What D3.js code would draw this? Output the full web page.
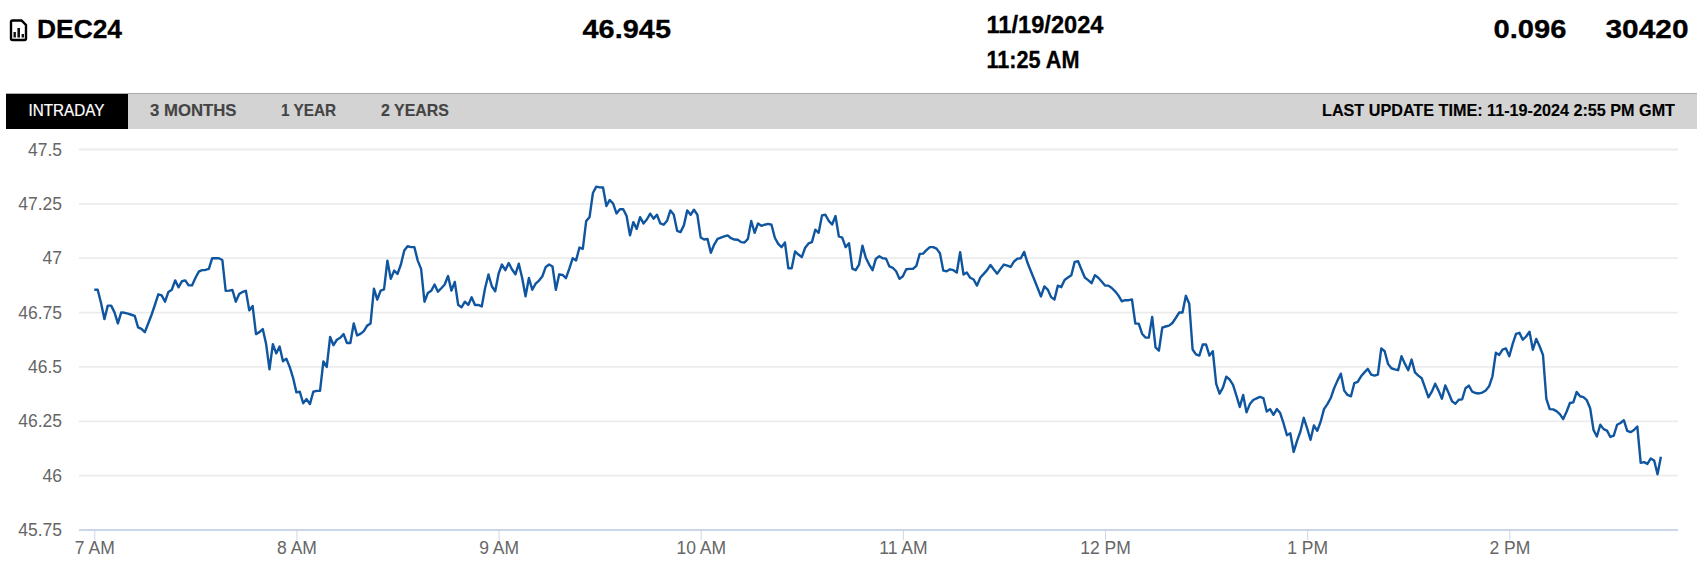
<!DOCTYPE html>
<html>
<head>
<meta charset="utf-8">
<script src="https://cdn.jsdelivr.net/npm/d3@7"></script>
<style>
html,body{margin:0;padding:0;background:#fff;overflow:hidden}
svg{display:block;font-family:"Liberation Sans",Arial,sans-serif}
</style>
</head>
<body>
<div id="chart"></div>
<script>
// Price readings, one per minute from 7:00 AM
const prices = [
46.855,46.855,46.794,46.72,46.782,46.782,46.751,46.70,46.751,46.749,
46.745,46.74,46.735,46.682,46.675,46.66,46.70,46.74,46.786,46.834,
46.829,46.80,46.845,46.855,46.898,46.866,46.894,46.898,46.875,46.875,
46.909,46.938,46.945,46.946,46.951,47.0,47.0,47.0,46.992,46.85,
46.851,46.854,46.80,46.835,46.845,46.85,46.76,46.78,46.651,46.66,
46.674,46.605,46.489,46.605,46.562,46.594,46.526,46.538,46.50,46.45,
46.383,46.386,46.333,46.352,46.329,46.386,46.39,46.39,46.525,46.50,
46.638,46.60,46.625,46.634,46.651,46.61,46.61,46.70,46.645,46.652,
46.665,46.69,46.70,46.86,46.81,46.851,46.857,46.989,46.905,46.943,
46.928,46.971,47.035,47.055,47.051,47.051,46.989,46.951,46.80,46.84,
46.85,46.879,46.846,46.862,46.879,46.918,46.851,46.891,46.786,46.774,
46.80,46.785,46.82,46.785,46.785,46.778,46.863,46.925,46.871,46.848,
46.929,46.971,46.945,46.978,46.948,46.926,46.975,46.909,46.825,46.909,
46.855,46.883,46.897,46.917,46.96,46.971,46.962,46.855,46.926,46.923,
46.908,46.952,47.0,46.99,47.049,47.043,47.171,47.189,47.30,47.329,
47.326,47.325,47.24,47.268,47.251,47.206,47.225,47.225,47.194,47.105,
47.166,47.135,47.189,47.16,47.178,47.205,47.182,47.20,47.16,47.154,
47.172,47.22,47.20,47.126,47.12,47.151,47.22,47.20,47.223,47.20,
47.095,47.086,47.089,47.025,47.063,47.089,47.095,47.10,47.105,47.092,
47.086,47.085,47.074,47.072,47.089,47.171,47.117,47.16,47.149,47.154,
47.158,47.154,47.094,47.066,47.051,47.072,46.954,46.954,47.031,47.017,
47.005,47.048,47.068,47.074,47.131,47.117,47.197,47.20,47.172,47.155,
47.194,47.10,47.095,47.051,47.069,46.952,46.945,46.971,47.058,47.002,
46.971,46.945,46.998,47.009,47.0,46.998,46.962,46.956,46.94,46.905,
46.917,46.949,46.951,46.951,46.965,47.02,47.021,47.037,47.051,47.051,
47.044,47.023,46.943,46.94,46.949,46.945,46.934,47.028,46.925,46.934,
46.91,46.902,46.874,46.911,46.928,46.945,46.969,46.948,46.929,46.951,
46.971,46.966,46.96,46.985,46.998,47.0,47.029,46.979,46.94,46.902,
46.863,46.824,46.87,46.856,46.821,46.81,46.874,46.867,46.90,46.911,
46.922,46.983,46.986,46.948,46.911,46.899,46.885,46.922,46.91,46.893,
46.874,46.874,46.863,46.848,46.828,46.802,46.807,46.807,46.81,46.699,
46.699,46.653,46.635,46.635,46.73,46.59,46.575,46.681,46.686,46.69,
46.702,46.725,46.75,46.75,46.827,46.791,46.58,46.558,46.552,46.603,
46.603,46.552,46.572,46.422,46.377,46.405,46.455,46.442,46.417,46.368,
46.316,46.371,46.291,46.329,46.348,46.355,46.362,46.357,46.295,46.306,
46.28,46.306,46.288,46.24,46.186,46.195,46.109,46.16,46.203,46.266,
46.217,46.165,46.231,46.206,46.248,46.306,46.329,46.357,46.402,46.437,
46.469,46.391,46.371,46.365,46.425,46.431,46.457,46.475,46.491,46.465,
46.46,46.465,46.585,46.572,46.514,46.494,46.489,46.485,46.549,46.515,
46.485,46.534,46.475,46.46,46.448,46.405,46.36,46.386,46.423,46.391,
46.354,46.415,46.38,46.342,46.331,46.349,46.351,46.402,46.414,46.386,
46.38,46.378,46.382,46.392,46.411,46.457,46.565,46.555,46.58,46.585,
46.549,46.606,46.652,46.657,46.625,46.64,46.662,46.579,46.629,46.595,
46.555,46.353,46.306,46.305,46.297,46.283,46.26,46.294,46.334,46.337,
46.385,46.365,46.361,46.347,46.31,46.21,46.18,46.234,46.214,46.207,
46.178,46.184,46.234,46.242,46.255,46.206,46.20,46.21,46.226,46.059,
46.062,46.054,46.079,46.07,46.006,46.087
];
const yTicks = [45.75,46,46.25,46.5,46.75,47,47.25,47.5];
const yLabels = ["45.75","46","46.25","46.5","46.75","47","47.25","47.5"];
const xTicks = [0,60,120,180,240,300,360,420];
const xLabels = ["7 AM","8 AM","9 AM","10 AM","11 AM","12 PM","1 PM","2 PM"];

const W = 1707, H = 571;
const svg = d3.select("#chart").append("svg").attr("width",W).attr("height",H);

const x = d3.scaleLinear().domain([0,420]).range([94.3,1509.3]);
const y = d3.scaleLinear().domain([45.75,47.5]).range([530,149.5]);
const gridL = 79, gridR = 1678;

// Header
function label(t,xs,w,base,size,weight,fill,bold){
  svg.append("text").text(t).attr("x",xs).attr("y",base)
    .attr("font-size",size).attr("font-weight",weight).attr("fill",fill)
    .attr("stroke",bold?fill:"none").attr("stroke-width",bold||0)
    .attr("textLength",w).attr("lengthAdjust","spacingAndGlyphs");
}
const ic = svg.append("g");
ic.append("path").attr("d","M12.5 20.5H21.5L26 25V38.5Q26 40 24.5 40H12.5Q11 40 11 38.5V22Q11 20.5 12.5 20.5Z")
  .attr("fill","none").attr("stroke","#000").attr("stroke-width",2.4);
ic.append("path").attr("d","M13.5 32h2.4v5.5h-2.4zM17.4 28h2.6v9.5h-2.6zM21.6 34h2.4v3.5h-2.4z").attr("fill","#111");

label("DEC24",37,85,37.5,25.5,700,"#000",0.3);
label("46.945",582.5,88.5,38,26,700,"#000",0.3);
label("11/19/2024",986.5,117,33,23,700,"#000",0.3);
label("11:25 AM",986.5,93,67.5,23,700,"#000",0.3);
label("0.096",1493.5,73,38,26,700,"#000",0.3);
label("30420",1605.5,83,38,26,700,"#000",0.3);

// Tab bar
svg.append("rect").attr("x",6).attr("y",93).attr("width",1691).attr("height",36).attr("fill","#d3d3d3");
svg.append("rect").attr("x",6).attr("y",93).attr("width",1691).attr("height",1).attr("fill","#aaa");
svg.append("rect").attr("x",6).attr("y",94).attr("width",122).attr("height",35).attr("fill","#000");
label("INTRADAY",28.5,76,116,16.5,400,"#fff",0.2);
label("3 MONTHS",150,86.5,116,16.5,700,"#444",0.15);
label("1 YEAR",281,55,116,16.5,700,"#444",0.15);
label("2 YEARS",381,68,116,16.5,700,"#444",0.15);
label("LAST UPDATE TIME: 11-19-2024 2:55 PM GMT",1322,353,116,16.5,700,"#000",0.15);

// Grid
svg.append("g").selectAll("line").data(yTicks.filter(d=>d!==45.75)).join("line")
  .attr("x1",gridL).attr("x2",gridR).attr("y1",d=>y(d)).attr("y2",d=>y(d))
  .attr("stroke","#ececec").attr("stroke-width",1.8);

// Axes
const yAxis = d3.axisLeft(y).tickValues(yTicks).tickSize(0).tickPadding(0)
  .tickFormat((d,i)=>yLabels[i]);
const yG = svg.append("g").attr("transform","translate(62,0)").call(yAxis);
yG.select(".domain").remove();
yG.selectAll("text").attr("font-size",17.5).attr("fill","#666").attr("font-family","Liberation Sans").attr("dy",null).attr("y",5.5);

const xAxis = d3.axisBottom(x).tickValues(xTicks).tickSize(10).tickPadding(0)
  .tickFormat((d,i)=>xLabels[i]);
const xG = svg.append("g").attr("transform","translate(0,530)").call(xAxis);
xG.select(".domain").remove();
xG.selectAll("line").attr("stroke","#ccd6eb").attr("stroke-width",1);
xG.selectAll("text").attr("font-size",17.5).attr("fill","#666").attr("font-family","Liberation Sans").attr("dy",null).attr("y",24);
svg.append("line").attr("x1",gridL).attr("x2",gridR).attr("y1",y(45.75)).attr("y2",y(45.75))
  .attr("stroke","#ccd6eb").attr("stroke-width",1.8);

// Price line
const line = d3.line().x((d,i)=>x(i)).y(d=>y(d));
svg.append("path").datum(prices).attr("d",line).attr("fill","none")
  .attr("stroke","#0f559f").attr("stroke-width",2.4).attr("stroke-linejoin","round").attr("stroke-linecap","butt");
</script>
</body>
</html>
